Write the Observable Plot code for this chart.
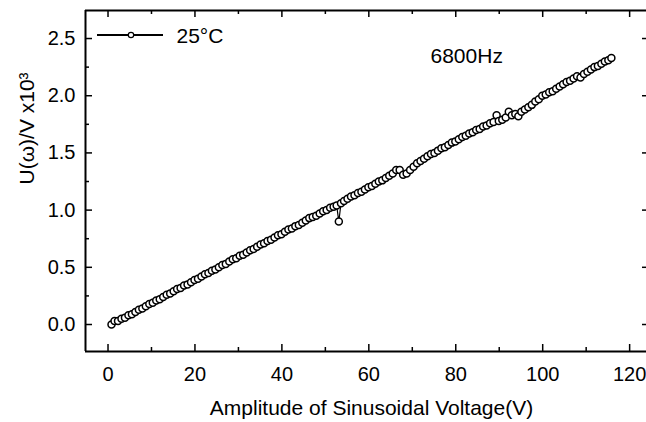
<!DOCTYPE html>
<html>
<head>
<meta charset="utf-8">
<script src="https://cdn.jsdelivr.net/npm/d3@7"></script>
<script src="https://cdn.jsdelivr.net/npm/@observablehq/plot@0.6"></script>
<style>
  html, body { margin: 0; padding: 0; background: white; }
</style>
</head>
<body>
<div id="chart"></div>
<script>
// Amplitude of sinusoidal voltage (V)
const voltage = [
  0.8,1.5,2.3,3.1,3.9,4.7,5.5,6.3,7.1,7.9,
  8.7,9.5,10.3,11.1,11.9,12.7,13.5,14.3,15.1,15.9,
  16.7,17.5,18.3,19.1,19.9,20.7,21.5,22.3,23.1,23.9,
  24.7,25.5,26.3,27.1,27.9,28.7,29.5,30.3,31.1,31.9,
  32.7,33.5,34.3,35.1,35.9,36.7,37.5,38.3,39.1,39.9,
  40.7,41.5,42.3,43.1,43.9,44.7,45.5,46.3,47.1,47.9,
  48.7,49.5,50.3,51.1,51.9,52.6,53.1,53.6,54.3,55.1,
  55.9,56.7,57.5,58.3,59.1,59.9,60.7,61.5,62.3,63.1,
  63.9,64.7,65.5,66.3,67.1,67.9,68.7,69.5,70.3,71.1,
  71.9,72.7,73.5,74.3,75.1,75.9,76.7,77.5,78.3,79.1,
  79.9,80.7,81.5,82.3,83.1,83.9,84.7,85.5,86.3,87.1,
  87.9,88.7,89.4,89.9,90.7,91.5,92.2,92.9,93.7,94.4,
  95.1,95.9,96.7,97.5,98.3,99.1,99.9,100.7,101.5,102.3,
  103.1,103.9,104.7,105.5,106.3,107.1,107.9,108.7,109.5,110.3,
  111.1,111.9,112.7,113.5,114.3,115.1,115.8
];
// U(ω)/V x10^3
const signal = [
  0.00,0.03,0.03,0.05,0.06,0.08,0.09,0.11,0.13,0.14,
  0.16,0.18,0.19,0.21,0.22,0.24,0.26,0.27,0.29,0.31,
  0.32,0.34,0.35,0.37,0.39,0.40,0.42,0.44,0.45,0.47,
  0.48,0.50,0.52,0.53,0.55,0.57,0.58,0.60,0.61,0.63,
  0.65,0.66,0.68,0.70,0.71,0.73,0.74,0.76,0.78,0.79,
  0.81,0.83,0.84,0.86,0.87,0.89,0.91,0.93,0.94,0.95,
  0.97,0.99,1.00,1.02,1.03,1.04,0.90,1.06,1.08,1.10,
  1.12,1.13,1.15,1.16,1.18,1.20,1.21,1.23,1.25,1.26,
  1.28,1.30,1.32,1.35,1.35,1.31,1.32,1.35,1.38,1.41,
  1.43,1.45,1.47,1.49,1.50,1.52,1.54,1.55,1.57,1.59,
  1.60,1.62,1.64,1.65,1.67,1.68,1.70,1.71,1.73,1.74,
  1.76,1.77,1.83,1.78,1.79,1.81,1.86,1.83,1.84,1.82,
  1.86,1.88,1.90,1.92,1.95,1.97,2.00,2.01,2.03,2.04,
  2.06,2.08,2.10,2.12,2.13,2.15,2.17,2.16,2.19,2.21,
  2.23,2.25,2.26,2.28,2.30,2.31,2.33
];
const xMajor = [0, 20, 40, 60, 80, 100, 120];
const xMinor = [10, 30, 50, 70, 90, 110];
const yMajor = [0, 0.5, 1.0, 1.5, 2.0, 2.5];
const yMinor = [0.25, 0.75, 1.25, 1.75, 2.25];
const xDomain = [-5.18, 123.88];
const yDomain = [-0.236, 2.745];
const legendItems = [{label: "25°C"}];
const annotation = ["6800Hz"];
const xTitle = ["Amplitude of Sinusoidal Voltage(V)"];
const yTitle = ["U(ω)/V x10³"];

const data = voltage.map((v, i) => ({v, u: signal[i]}));

const W = 646, H = 422, mt = 10, mr = 0, mb = 71, ml = 85;
const pw = W - ml - mr, ph = H - mt - mb;

const chart = Plot.plot({
  width: W, height: H,
  marginTop: mt, marginRight: mr, marginBottom: mb, marginLeft: ml,
  style: {fontFamily: '"Liberation Sans", Arial, sans-serif', fontSize: "20px", color: "black", background: "white", overflow: "visible"},
  x: {domain: xDomain, ticks: xMajor, tickSize: 0, tickPadding: 15, label: null},
  y: {domain: yDomain, ticks: yMajor, tickSize: 0, tickPadding: 10, tickFormat: d3.format(".1f"), label: null},
  marks: [
    // ticks (inward)
    Plot.ruleX(xMajor, {insetTop: ph - 7, strokeWidth: 1.5}),
    Plot.ruleX(xMinor, {insetTop: ph - 4, strokeWidth: 1.5}),
    Plot.ruleX(xMajor, {insetBottom: ph - 7, strokeWidth: 1.5}),
    Plot.ruleX(xMinor, {insetBottom: ph - 4, strokeWidth: 1.5}),
    Plot.ruleY(yMajor, {insetRight: pw - 7, strokeWidth: 1.5}),
    Plot.ruleY(yMinor, {insetRight: pw - 4, strokeWidth: 1.5}),
    Plot.ruleY(yMajor, {insetLeft: pw - 4, strokeWidth: 1.5}),
    // frame lines
    Plot.ruleX([xDomain[0]], {strokeWidth: 2}),
    Plot.ruleY([yDomain[0], yDomain[1]], {strokeWidth: 2}),
    // data
    Plot.line(data, {x: "v", y: "u", stroke: "black", strokeWidth: 1.2}),
    Plot.dot(data, {x: "v", y: "u", r: 3.5, stroke: "black", fill: "white", strokeWidth: 1.5}),
    // annotation
    Plot.text(annotation, {frameAnchor: "top-left", dx: 345, dy: 38, text: d => d, textAnchor: "start", lineAnchor: "top", fontSize: 21, fill: "black"}),
    // legend text
    Plot.text(legendItems, {frameAnchor: "top-left", dx: 91, dy: 18, text: "label", textAnchor: "start", lineAnchor: "top", fontSize: 21, fill: "black"}),
    // axis titles
    Plot.text(xTitle, {frameAnchor: "bottom", dx: 5.5, dy: 49, text: d => d, lineAnchor: "top", fontSize: 21, fill: "black"}),
    Plot.text(yTitle, {frameAnchor: "left", dx: -52, dy: 3.5, text: d => d, rotate: -90, lineAnchor: "bottom", fontSize: 21, fill: "black"})
  ]
});

// legend symbol (line with open circle)
const svg = d3.select(chart);
const lg = svg.append("g").attr("class", "legend-symbol");
legendItems.forEach((item, i) => {
  lg.append("line").attr("x1", ml + 12).attr("x2", ml + 78).attr("y1", mt + 25 + i * 25).attr("y2", mt + 25 + i * 25)
    .attr("stroke", "black").attr("stroke-width", 2);
  lg.append("circle").attr("cx", ml + 46).attr("cy", mt + 25 + i * 25).attr("r", 2.7)
    .attr("stroke", "black").attr("fill", "white").attr("stroke-width", 1.2);
});

document.getElementById("chart").appendChild(chart);
</script>
</body>
</html>
